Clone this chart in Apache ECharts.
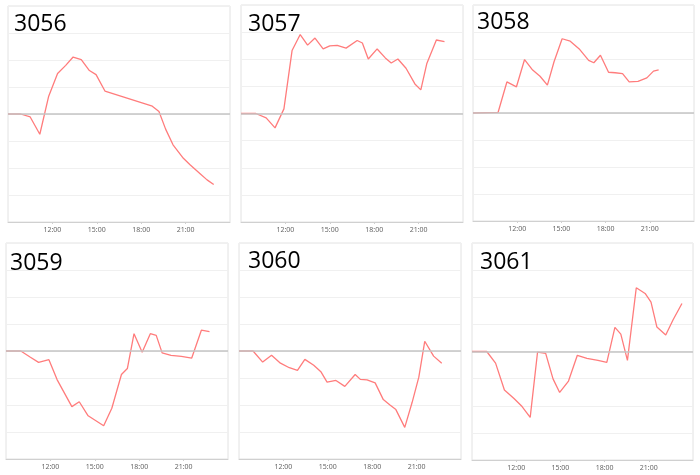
<!DOCTYPE html>
<html>
<head>
<meta charset="utf-8">
<script src="https://cdn.jsdelivr.net/npm/echarts@6/dist/echarts.min.js"></script>
<style>
html,body{margin:0;padding:0;background:#fff;}
#c{width:700px;height:475px;}
</style>
</head>
<body>
<div id="c"></div>
<script>
// Panel titles
const titles = ['3056', '3057', '3058', '3059', '3060', '3061'];
// X tick labels (hours)
const tickHours = [12, 15, 18, 21];

// Panel 3056
const t3056 = [9.0, 9.85, 10.5, 11.15, 11.75, 12.35, 12.9, 13.4, 13.95, 14.5, 14.95, 15.55, 18.75, 19.2, 19.65, 20.15, 20.85, 21.3, 22.0, 22.45, 22.9];
const v3056 = [0, 0, -0.11, -0.75, 0.66, 1.5, 1.8, 2.11, 2.01, 1.61, 1.46, 0.85, 0.29, 0.09, -0.56, -1.14, -1.64, -1.88, -2.22, -2.44, -2.61];
// Panel 3057
const t3057 = [9.0, 10.0, 10.7, 11.3, 11.9, 12.45, 13.0, 13.5, 14.0, 14.55, 15.0, 15.5, 16.1, 16.85, 17.2, 17.6, 18.2, 18.75, 19.15, 19.6, 20.15, 20.75, 21.15, 21.55, 22.2, 22.75];
const v3057 = [0, 0, -0.16, -0.53, 0.17, 2.32, 2.91, 2.52, 2.78, 2.38, 2.49, 2.51, 2.41, 2.69, 2.6, 2.01, 2.38, 2.05, 1.86, 2.01, 1.67, 1.09, 0.87, 1.83, 2.71, 2.65];
// Panel 3058
const t3058 = [9.0, 10.7, 11.3, 11.95, 12.5, 13.05, 13.55, 14.05, 14.5, 15.05, 15.6, 16.25, 16.85, 17.2, 17.65, 18.2, 18.65, 19.15, 19.6, 20.2, 20.8, 21.25, 21.6];
const v3058 = [0, 0.02, 1.15, 0.97, 1.98, 1.59, 1.36, 1.03, 1.9, 2.75, 2.66, 2.35, 1.95, 1.86, 2.14, 1.51, 1.49, 1.46, 1.15, 1.17, 1.3, 1.55, 1.6];
// Panel 3059
const t3059 = [9.0, 10.0, 10.65, 11.2, 11.9, 12.45, 13.45, 13.95, 14.55, 15.6, 16.15, 16.8, 17.2, 17.65, 18.2, 18.75, 19.15, 19.55, 20.15, 20.85, 21.55, 22.2, 22.75];
const v3059 = [0, 0, -0.23, -0.42, -0.32, -1.06, -2.06, -1.88, -2.4, -2.77, -2.12, -0.87, -0.65, 0.64, -0.05, 0.64, 0.58, -0.07, -0.16, -0.2, -0.26, 0.77, 0.72];
// Panel 3060
const t3060 = [9.0, 9.95, 10.6, 11.2, 11.8, 12.4, 12.95, 13.45, 14.05, 14.55, 14.95, 15.55, 16.15, 16.85, 17.2, 17.65, 18.2, 18.75, 19.2, 19.6, 20.2, 20.7, 21.15, 21.55, 22.15, 22.7];
const v3060 = [0, 0, -0.41, -0.16, -0.45, -0.62, -0.72, -0.31, -0.53, -0.78, -1.15, -1.09, -1.31, -0.87, -1.05, -1.07, -1.18, -1.8, -2.0, -2.17, -2.83, -1.9, -0.97, 0.36, -0.19, -0.45];
// Panel 3061
const t3061 = [9.0, 10.0, 10.6, 11.2, 11.85, 12.4, 12.95, 13.45, 14.0, 14.5, 14.95, 15.55, 16.15, 16.8, 17.55, 18.15, 18.7, 19.1, 19.55, 20.15, 20.75, 21.15, 21.55, 22.15, 22.65, 23.25];
const v3061 = [0, 0, -0.43, -1.42, -1.73, -2.03, -2.43, -0.02, -0.07, -1.01, -1.51, -1.09, -0.14, -0.25, -0.33, -0.4, 0.89, 0.64, -0.33, 2.35, 2.14, 1.82, 0.9, 0.61, 1.17, 1.77];

const times = [t3056, t3057, t3058, t3059, t3060, t3061];
const values = [v3056, v3057, v3058, v3059, v3060, v3061];

// layout (px)
const gridBoxes = [
  [8, 6, 222, 216], [241, 5, 222, 217], [473, 5, 221, 216],
  [6, 243, 222, 216], [239, 243, 222, 216], [472, 243, 221, 217]
];
const titlePos = [[14, 13], [248, 13], [477, 11], [10, 252], [248, 250], [480, 251]];

const grids = [], xAxes = [], yAxes = [], series = [], titleArr = [];
for (let i = 0; i < 6; i++) {
  const b = gridBoxes[i];
  grids.push({
    left: b[0], top: b[1], width: b[2], height: b[3],
    show: true, borderColor: '#e2e2e2', borderWidth: 1, backgroundColor: '#fff'
  });
  xAxes.push({
    type: 'value', gridIndex: i, min: 9, max: 24, interval: 3,
    axisLine: { show: true, onZero: false, lineStyle: { color: '#d0d0d0' } },
    axisTick: { show: true, length: 2, lineStyle: { color: '#d0d0d0' } },
    splitLine: { show: false },
    axisLabel: {
      show: true, fontSize: 7, color: '#666', margin: 4, fontFamily: 'Noto Sans',
      showMinLabel: false, showMaxLabel: false,
      formatter: v => (tickHours.indexOf(v) >= 0 ? v + ':00' : '')
    }
  });
  yAxes.push({
    type: 'value', gridIndex: i, min: -4, max: 4, interval: 1,
    axisLine: { show: false }, axisTick: { show: false }, axisLabel: { show: false },
    splitLine: { show: true, lineStyle: { color: '#f0f0f0', width: 1 } }
  });
  series.push({
    type: 'line', xAxisIndex: i, yAxisIndex: i,
    data: times[i].map((t, k) => [t, values[i][k]]),
    showSymbol: false, symbol: 'none',
    lineStyle: { color: '#ff7c7c', width: 1.3 },
    itemStyle: { color: '#ff7c7c' },
    animation: false,
    markLine: {
      silent: true, symbol: 'none', animation: false,
      label: { show: false },
      lineStyle: { color: '#c4c4c4', width: 1.5, type: 'solid' },
      data: [{ yAxis: 0 }]
    }
  });
  titleArr.push({
    text: titles[i], left: titlePos[i][0], top: titlePos[i][1], padding: 0,
    textStyle: { fontSize: 23, fontWeight: 'normal', color: '#000', fontFamily: 'Open Sans' }
  });
}

const chart = echarts.init(document.getElementById('c'), null, { renderer: 'canvas' });
chart.setOption({
  backgroundColor: '#fff',
  animation: false,
  title: titleArr,
  grid: grids,
  xAxis: xAxes,
  yAxis: yAxes,
  series: series
});
</script>
</body>
</html>
